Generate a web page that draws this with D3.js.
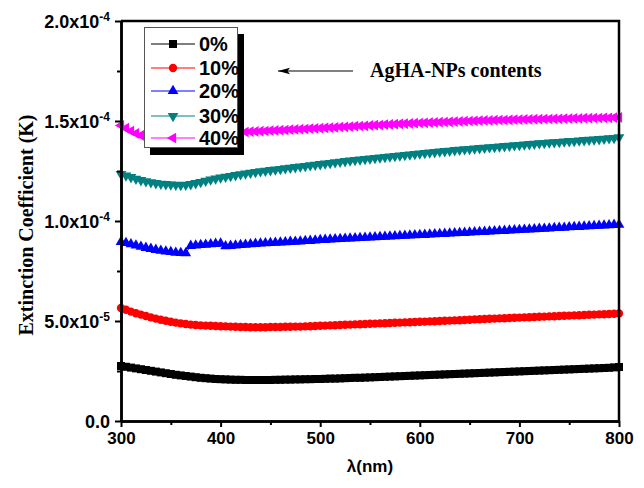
<!DOCTYPE html>
<html>
<head>
<meta charset="utf-8">
<script src="https://cdn.jsdelivr.net/npm/d3@7"></script>
<style>
    body { margin: 0; background: #fff; }
    .axis path, .axis line { stroke: #000; }
    .axis text { font-family: "Liberation Sans", Arial, sans-serif; font-weight: bold; fill: #000; }
</style>
</head>
<body>
<div id="chart"></div>
<script>
// wavelength grid (nm), every 5 nm from 300 to 800
var wavelengths = d3.range(300, 801, 5);

// extinction coefficient, in units of 1e-5
var k0 = [2.75, 2.71, 2.67, 2.63, 2.59, 2.55, 2.51, 2.47, 2.43, 2.39, 2.35, 2.31, 2.28, 2.25, 2.22, 2.19, 2.16, 2.14, 2.12, 2.10, 2.09,
    2.08, 2.07, 2.06, 2.06, 2.05, 2.05, 2.05, 2.05, 2.05, 2.05, 2.06, 2.06, 2.07, 2.07, 2.08, 2.08, 2.09, 2.09, 2.10, 2.10,
    2.11, 2.12, 2.12, 2.13, 2.14, 2.15, 2.16, 2.16, 2.17, 2.18, 2.19, 2.20, 2.21, 2.22, 2.23, 2.24, 2.25, 2.26, 2.27, 2.28,
    2.29, 2.30, 2.31, 2.32, 2.33, 2.34, 2.35, 2.36, 2.37, 2.38, 2.39, 2.40, 2.41, 2.42, 2.43, 2.44, 2.45, 2.46, 2.47, 2.48,
    2.49, 2.50, 2.51, 2.52, 2.53, 2.54, 2.55, 2.56, 2.57, 2.58, 2.59, 2.60, 2.61, 2.62, 2.63, 2.64, 2.65, 2.66, 2.68, 2.70];
var k10 = [5.65, 5.56, 5.47, 5.39, 5.32, 5.25, 5.18, 5.12, 5.06, 5.01, 4.96, 4.92, 4.88, 4.85, 4.82, 4.80, 4.78, 4.77, 4.76, 4.75, 4.74,
    4.73, 4.72, 4.71, 4.70, 4.70, 4.69, 4.69, 4.69, 4.69, 4.70, 4.70, 4.70, 4.71, 4.71, 4.72, 4.72, 4.73, 4.74, 4.75, 4.76,
    4.77, 4.78, 4.79, 4.80, 4.81, 4.82, 4.83, 4.84, 4.85, 4.86, 4.87, 4.88, 4.89, 4.90, 4.91, 4.92, 4.93, 4.94, 4.95, 4.96,
    4.97, 4.98, 4.99, 5.00, 5.01, 5.02, 5.03, 5.04, 5.05, 5.06, 5.08, 5.09, 5.10, 5.11, 5.12, 5.13, 5.14, 5.15, 5.16, 5.17,
    5.18, 5.19, 5.20, 5.21, 5.22, 5.23, 5.24, 5.25, 5.26, 5.27, 5.28, 5.29, 5.30, 5.31, 5.32, 5.33, 5.34, 5.35, 5.36, 5.38];
var k20 = [8.95, 8.90, 8.84, 8.78, 8.72, 8.66, 8.61, 8.56, 8.52, 8.48, 8.45, 8.42, 8.40, 8.39, 8.76, 8.78, 8.80, 8.82, 8.84, 8.86, 8.88,
    8.74, 8.76, 8.78, 8.80, 8.82, 8.84, 8.86, 8.88, 8.89, 8.90, 8.92, 8.93, 8.94, 8.96, 8.97, 8.98, 9.00, 9.01, 9.03, 9.05,
    9.06, 9.08, 9.09, 9.10, 9.12, 9.13, 9.14, 9.15, 9.17, 9.18, 9.19, 9.20, 9.22, 9.23, 9.24, 9.25, 9.27, 9.28, 9.29, 9.30,
    9.31, 9.33, 9.34, 9.35, 9.36, 9.38, 9.39, 9.40, 9.41, 9.43, 9.44, 9.45, 9.46, 9.48, 9.49, 9.50, 9.51, 9.53, 9.54, 9.55,
    9.57, 9.58, 9.59, 9.61, 9.62, 9.63, 9.65, 9.66, 9.67, 9.69, 9.70, 9.71, 9.73, 9.74, 9.75, 9.77, 9.78, 9.79, 9.81, 9.82];
var k30 = [12.35, 12.27, 12.19, 12.11, 12.04, 11.98, 11.93, 11.89, 11.86, 11.84, 11.82, 11.81, 11.80, 11.81, 11.84, 11.89, 11.95, 12.01, 12.07, 12.12, 12.17,
    12.21, 12.25, 12.29, 12.33, 12.37, 12.41, 12.45, 12.48, 12.51, 12.54, 12.57, 12.60, 12.63, 12.66, 12.69, 12.72, 12.75, 12.78, 12.81, 12.84,
    12.87, 12.90, 12.93, 12.96, 12.99, 13.02, 13.05, 13.07, 13.10, 13.12, 13.15, 13.17, 13.20, 13.22, 13.25, 13.27, 13.30, 13.32, 13.35, 13.37,
    13.40, 13.42, 13.44, 13.47, 13.49, 13.51, 13.54, 13.56, 13.58, 13.60, 13.62, 13.64, 13.66, 13.68, 13.70, 13.72, 13.74, 13.76, 13.78, 13.80,
    13.82, 13.84, 13.86, 13.88, 13.90, 13.92, 13.93, 13.95, 13.97, 13.99, 14.00, 14.02, 14.04, 14.06, 14.07, 14.09, 14.11, 14.13, 14.15, 14.18];
var k40 = [14.78, 14.64, 14.50, 14.38, 14.28, 14.20, 14.15, 14.12, 14.11, 14.12, 14.14, 14.17, 14.20, 14.23, 14.26, 14.29, 14.32, 14.34, 14.36, 14.38, 14.40,
    14.41, 14.42, 14.43, 14.44, 14.45, 14.47, 14.48, 14.49, 14.50, 14.52, 14.53, 14.54, 14.55, 14.57, 14.58, 14.59, 14.60, 14.62, 14.63, 14.64,
    14.66, 14.67, 14.68, 14.70, 14.71, 14.72, 14.74, 14.75, 14.76, 14.78, 14.79, 14.80, 14.82, 14.83, 14.84, 14.86, 14.87, 14.88, 14.89, 14.90,
    14.91, 14.92, 14.93, 14.94, 14.95, 14.96, 14.97, 14.98, 14.99, 15.00, 15.01, 15.02, 15.03, 15.03, 15.04, 15.05, 15.05, 15.06, 15.07, 15.07,
    15.08, 15.08, 15.09, 15.09, 15.10, 15.10, 15.11, 15.11, 15.12, 15.12, 15.13, 15.13, 15.14, 15.14, 15.15, 15.15, 15.16, 15.16, 15.17, 15.18];

var seriesNames = ["0%", "10%", "20%", "30%", "40%"];
var seriesValues = [k0, k10, k20, k30, k40];
var seriesColors = ["#000000", "#ff0000", "#0000ff", "#008080", "#ff00ff"];

var xTicks = [300, 400, 500, 600, 700, 800];
var yTicks = [0, 5, 10, 15, 20];
var yTickBase = ["0.0", "5.0x10", "1.0x10", "1.5x10", "2.0x10"];
var yTickExp = ["", "-5", "-4", "-4", "-4"];

var width = 644, height = 488;
var margin = {top: 21, right: 25, bottom: 67, left: 121};
var innerW = width - margin.left - margin.right;
var innerH = height - margin.top - margin.bottom;

var svg = d3.select("#chart").append("svg")
    .attr("width", width)
    .attr("height", height);

var g = svg.append("g")
    .attr("transform", "translate(" + margin.left + "," + margin.top + ")");

var x = d3.scaleLinear().domain([300, 800]).range([0, innerW]);
var y = d3.scaleLinear().domain([0, 20]).range([innerH, 0]);

// marker shapes per series: square, circle, up / down / left triangles
var symbols = [
    {type: d3.symbolSquare, size: 64, rot: 0},
    {type: d3.symbolCircle, size: 55, rot: 0},
    {type: d3.symbolTriangle, size: 50, rot: 0},
    {type: d3.symbolTriangle, size: 50, rot: 180},
    {type: d3.symbolTriangle, size: 50, rot: -90}
];

var line = d3.line()
    .x(function(d) { return x(d[0]); })
    .y(function(d) { return y(d[1]); });

seriesValues.forEach(function(vals, i) {
    var pts = wavelengths.map(function(w, j) { return [w, vals[j]]; });
    var sg = g.append("g").attr("class", "series");
    sg.append("path")
        .datum(pts)
        .attr("fill", "none")
        .attr("stroke", seriesColors[i])
        .attr("stroke-width", 1)
        .attr("d", line);
    sg.selectAll("path.mk")
        .data(pts)
        .enter().append("path")
        .attr("class", "mk")
        .attr("d", d3.symbol().type(symbols[i].type).size(symbols[i].size))
        .attr("fill", seriesColors[i])
        .attr("transform", function(d) {
            return "translate(" + x(d[0]) + "," + y(d[1]) + ") rotate(" + symbols[i].rot + ")";
        });
});

// axes
var xAxis = g.append("g")
    .attr("class", "axis")
    .attr("transform", "translate(0," + innerH + ")")
    .call(d3.axisBottom(x).tickValues(xTicks).tickSize(6).tickSizeOuter(0).tickPadding(5));
xAxis.selectAll("text").style("font-size", "17px");

g.append("g")
    .attr("class", "axis")
    .attr("transform", "translate(0," + innerH + ")")
    .call(d3.axisBottom(x).tickValues([350, 450, 550, 650, 750]).tickSize(4).tickSizeOuter(0).tickFormat(""));

var yAxis = g.append("g")
    .attr("class", "axis")
    .call(d3.axisLeft(y).tickValues(yTicks).tickSize(6).tickSizeOuter(0).tickPadding(5).tickFormat(""));
yAxis.selectAll(".tick text")
    .style("font-size", "18px")
    .attr("dy", "0.35em")
    .each(function(d, i) {
        var t = d3.select(this);
        t.append("tspan").text(yTickBase[i]);
        if (yTickExp[i]) {
            t.append("tspan").attr("dy", "-0.55em").style("font-size", "12px").text(yTickExp[i]);
        }
    });

g.append("g")
    .attr("class", "axis")
    .call(d3.axisLeft(y).tickValues([2.5, 7.5, 12.5, 17.5]).tickSize(4).tickSizeOuter(0).tickFormat(""));

g.selectAll(".axis path.domain").attr("stroke-width", 2.5);
g.selectAll(".axis .tick line").attr("stroke-width", 2);

// top and right frame
g.append("path")
    .attr("d", "M0,0H" + innerW + "V" + innerH)
    .attr("fill", "none")
    .attr("stroke", "#000")
    .attr("stroke-width", 2.5);

// axis titles
svg.append("text")
    .attr("transform", "translate(33," + (margin.top + innerH / 2 + 4) + ") rotate(-90)")
    .attr("text-anchor", "middle")
    .style("font-family", "'Liberation Serif', 'Times New Roman', serif")
    .style("font-weight", "bold")
    .style("font-size", "20px")
    .text("Extinction Coefficient (K)");

svg.append("text")
    .attr("x", margin.left + innerW / 2)
    .attr("y", 472)
    .attr("text-anchor", "middle")
    .style("font-family", "'Liberation Sans', Arial, sans-serif")
    .style("font-weight", "bold")
    .style("font-size", "17px")
    .text("λ(nm)");

// legend
var legend = svg.append("g").attr("class", "legend");
legend.append("rect")
    .attr("x", 150).attr("y", 34).attr("width", 94).attr("height", 121)
    .attr("fill", "#000");
legend.append("rect")
    .attr("x", 144.5).attr("y", 27.5).attr("width", 93).attr("height", 120)
    .attr("fill", "#fff").attr("stroke", "#555").attr("stroke-width", 1);

var legendRows = [44, 68, 91, 116, 138];
seriesNames.forEach(function(name, i) {
    var row = legend.append("g").attr("transform", "translate(0," + legendRows[i] + ")");
    row.append("line")
        .attr("x1", 151).attr("x2", 195).attr("y1", 0).attr("y2", 0)
        .attr("stroke", seriesColors[i]).attr("stroke-width", 1);
    row.append("path")
        .attr("d", d3.symbol().type(symbols[i].type).size(symbols[i].size)())
        .attr("transform", "translate(173,0) rotate(" + symbols[i].rot + ")")
        .attr("fill", seriesColors[i]);
    row.append("text")
        .attr("x", 199).attr("y", 7)
        .style("font-family", "'Liberation Sans', Arial, sans-serif")
        .style("font-weight", "bold")
        .style("font-size", "20px")
        .text(name);
});

// annotation
svg.append("defs").append("marker")
    .attr("id", "arrow")
    .attr("viewBox", "0 0 12 8")
    .attr("refX", 0).attr("refY", 4)
    .attr("markerUnits", "userSpaceOnUse")
    .attr("markerWidth", 12).attr("markerHeight", 8)
    .attr("orient", "auto")
    .append("path")
    .attr("d", "M0,4L12,0.8L9.5,4L12,7.2Z")
    .attr("fill", "#000");

svg.append("line")
    .attr("x1", 278).attr("x2", 353).attr("y1", 71).attr("y2", 71)
    .attr("stroke", "#000").attr("stroke-width", 1)
    .attr("marker-start", "url(#arrow)");

svg.append("text")
    .attr("x", 370).attr("y", 77)
    .style("font-family", "'Liberation Serif', 'Times New Roman', serif")
    .style("font-weight", "bold")
    .style("font-size", "20px")
    .text("AgHA-NPs contents");
</script>
</body>
</html>
